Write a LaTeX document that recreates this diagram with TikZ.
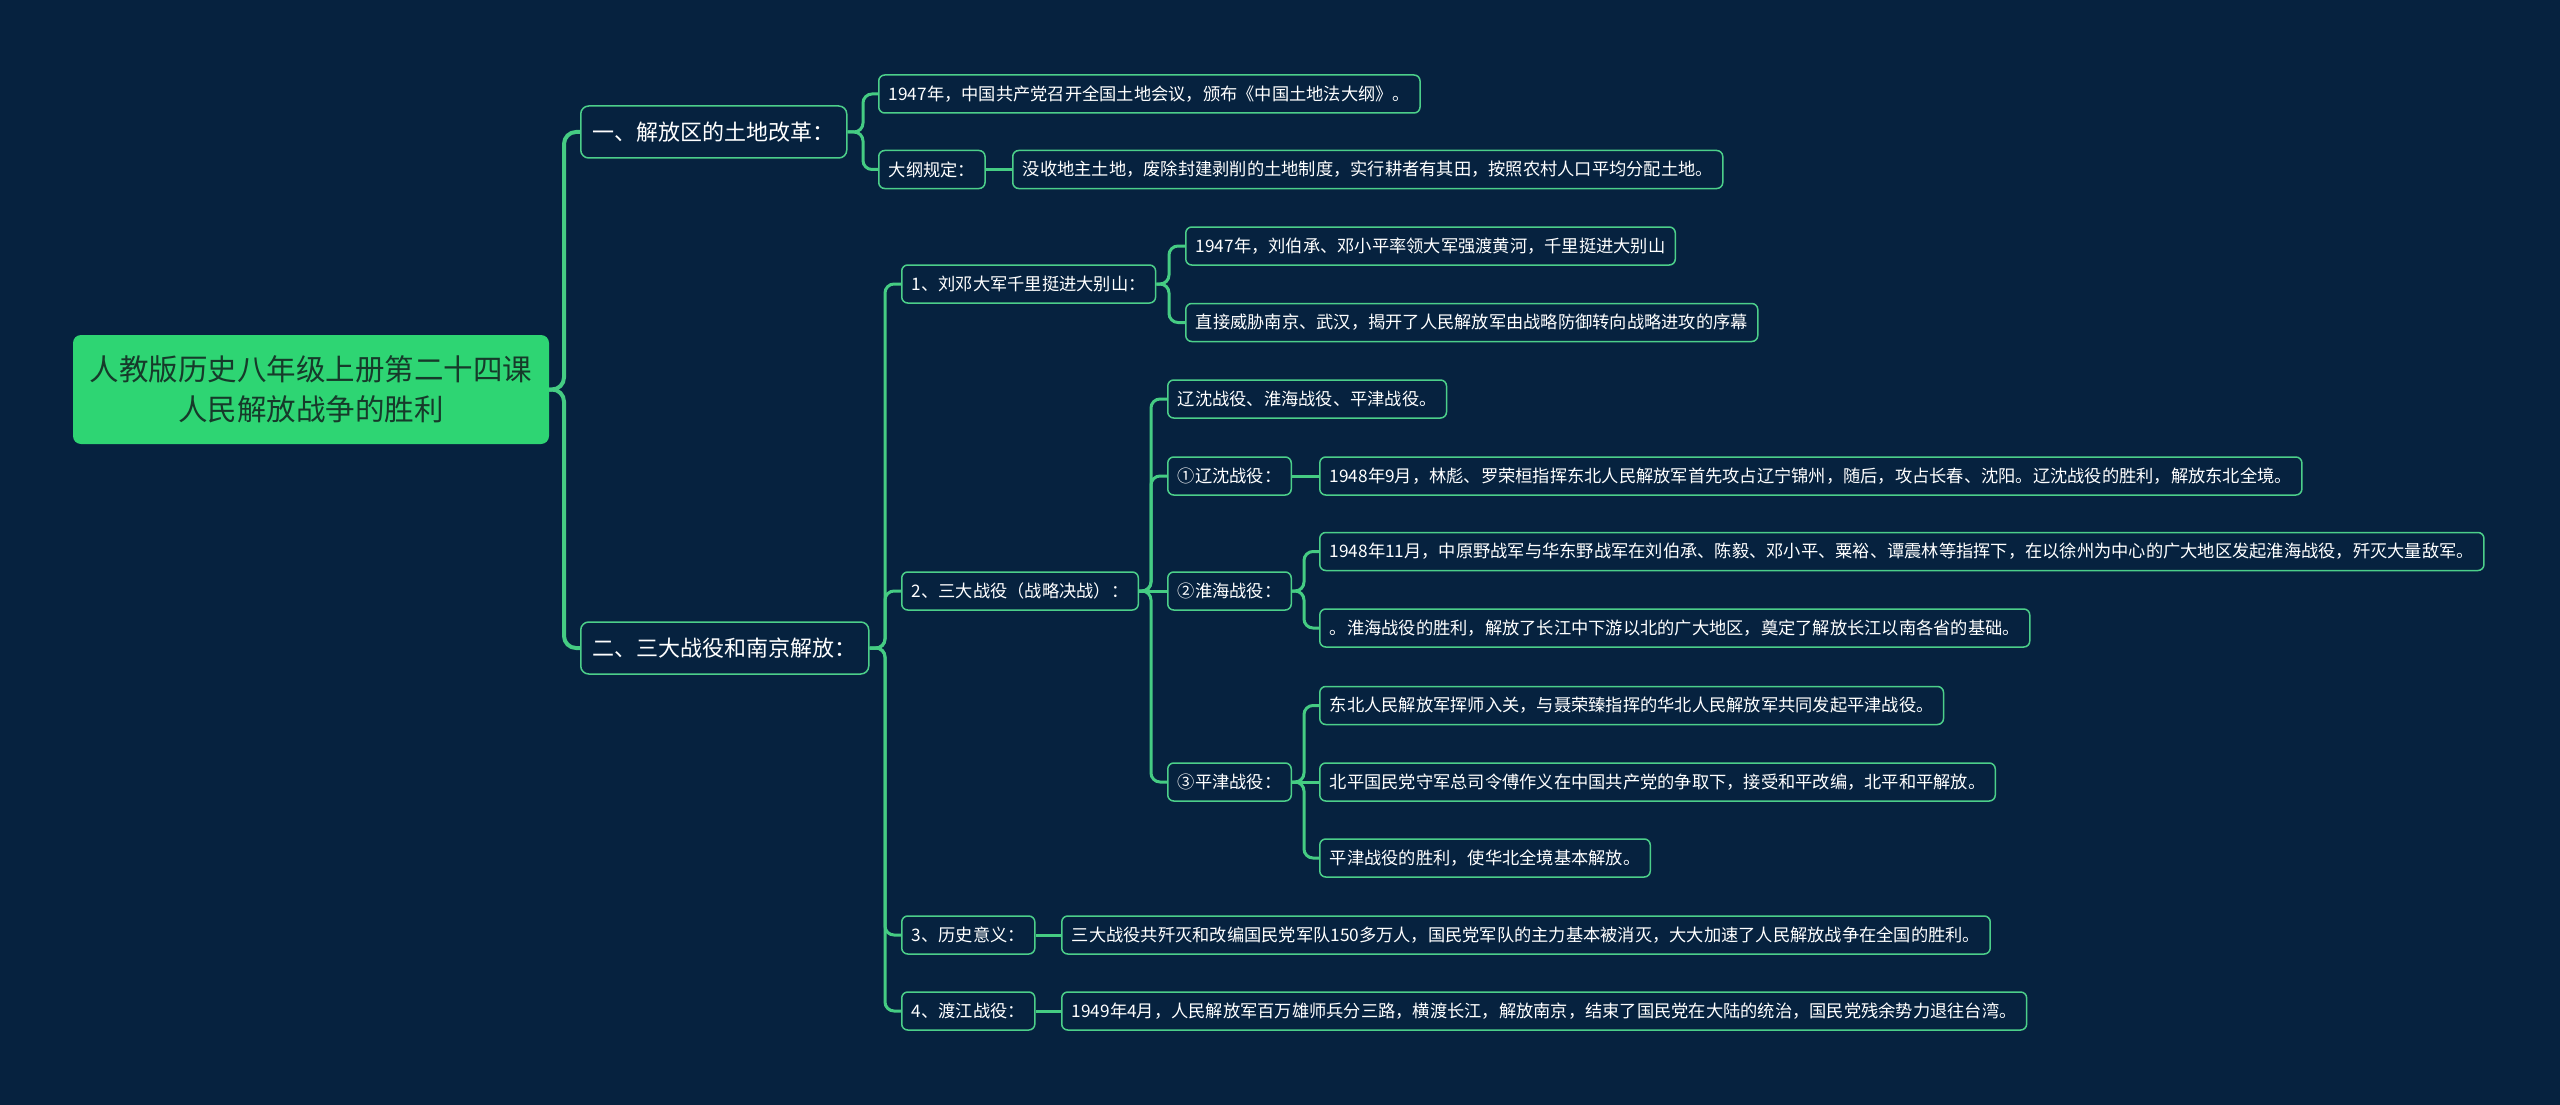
\documentclass[tikz,border=0pt]{standalone}
\usepackage{fontspec}
\setmainfont{Noto Sans CJK SC}
\definecolor{bgc}{HTML}{06223F}
\definecolor{edgec}{HTML}{4CCF8A}
\definecolor{linec}{HTML}{45CC83}
\definecolor{rootc}{HTML}{2ED573}
\definecolor{roottext}{HTML}{163A2A}
\begin{document}
\begin{tikzpicture}[x=1pt,y=-1pt,
 box/.style={draw=edgec, fill=bgc, text=white, rounded corners=6pt, line width=1.5pt,
   font=\fontsize{17.25}{20}\selectfont, minimum height=38pt, inner xsep=10pt, inner ysep=0pt, anchor=west},
 lone/.style={box, font=\fontsize{22}{26}\selectfont, minimum height=52pt, inner xsep=12pt, rounded corners=8pt},
 rootbox/.style={fill=rootc, text=roottext, rounded corners=8pt, font=\fontsize{29.5}{40}\selectfont,
   align=center, minimum width=476pt, minimum height=109pt},
 conn/.style={draw=linec, line width=3pt, rounded corners=9pt},
 connthick/.style={conn, line width=4pt, rounded corners=12pt}]
\fill[bgc] (0,0) rectangle (2560,1105);
\useasboundingbox (0,0) rectangle (2560,1105);

% nodes
\node[rootbox] (root) at (311,389.5) {人教版历史八年级上册第二十四课\\人民解放战争的胜利};
\node[lone] (la) at (580,132) {一、解放区的土地改革：};
\node[lone] (lb) at (580,648) {二、三大战役和南京解放：};

\node[box] (a1) at (878,94) {1947年，中国共产党召开全国土地会议，颁布《中国土地法大纲》。};
\node[box] (a2) at (878,169.5) {大纲规定：};
\node[box] (a2x) at (1012,169.5) {没收地主土地，废除封建剥削的土地制度，实行耕者有其田，按照农村人口平均分配土地。};

\node[box] (b1) at (901,284) {1、刘邓大军千里挺进大别山：};
\node[box] (b2) at (901,591) {2、三大战役（战略决战）：};
\node[box] (b3) at (901,935) {3、历史意义：};
\node[box] (b4) at (901,1011) {4、渡江战役：};

\node[box] (b1a) at (1185,246) {1947年，刘伯承、邓小平率领大军强渡黄河，千里挺进大别山};
\node[box] (b1b) at (1185,322.5) {直接威胁南京、武汉，揭开了人民解放军由战略防御转向战略进攻的序幕};

\node[box] (b2a) at (1167,399) {辽沈战役、淮海战役、平津战役。};
\node[box] (b2b) at (1167,476) {①辽沈战役：};
\node[box] (b2bx) at (1319,476) {1948年9月，林彪、罗荣桓指挥东北人民解放军首先攻占辽宁锦州，随后，攻占长春、沈阳。辽沈战役的胜利，解放东北全境。};
\node[box] (b2c) at (1167,591) {②淮海战役：};
\node[box] (b2c1) at (1319,551.5) {1948年11月，中原野战军与华东野战军在刘伯承、陈毅、邓小平、粟裕、谭震林等指挥下，在以徐州为中心的广大地区发起淮海战役，歼灭大量敌军。};
\node[box] (b2c2) at (1319,628) {。淮海战役的胜利，解放了长江中下游以北的广大地区，奠定了解放长江以南各省的基础。};
\node[box] (b2d) at (1167,782) {③平津战役：};
\node[box] (b2d1) at (1319,705.5) {东北人民解放军挥师入关，与聂荣臻指挥的华北人民解放军共同发起平津战役。};
\node[box] (b2d2) at (1319,782) {北平国民党守军总司令傅作义在中国共产党的争取下，接受和平改编，北平和平解放。};
\node[box] (b2d3) at (1319,858) {平津战役的胜利，使华北全境基本解放。};

\node[box] (b3x) at (1061,935) {三大战役共歼灭和改编国民党军队150多万人，国民党军队的主力基本被消灭，大大加速了人民解放战争在全国的胜利。};
\node[box] (b4x) at (1061,1011) {1949年4月，人民解放军百万雄师兵分三路，横渡长江，解放南京，结束了国民党在大陆的统治，国民党残余势力退往台湾。};

% spine coordinates
\coordinate (s0) at (564,0);
\coordinate (sa) at (863,0);
\coordinate (sb) at (885,0);
\coordinate (sb1) at (1169,0);
\coordinate (sb2) at (1151,0);
\coordinate (sbc) at (1304,0);
\coordinate (sbd) at (1304,0);

% connectors
\draw[connthick] (root.east) -- (root.east -| s0) |- (la.west);
\draw[connthick] (root.east) -- (root.east -| s0) |- (lb.west);

\draw[conn] (la.east) -- (la.east -| sa) |- (a1.west);
\draw[conn] (la.east) -- (la.east -| sa) |- (a2.west);
\draw[conn] (a2.east) -- (a2x.west);

\draw[conn] (lb.east) -- (lb.east -| sb) |- (b1.west);
\draw[conn] (lb.east) -- (lb.east -| sb) |- (b2.west);
\draw[conn] (lb.east) -- (lb.east -| sb) |- (b3.west);
\draw[conn] (lb.east) -- (lb.east -| sb) |- (b4.west);

\draw[conn] (b1.east) -- (b1.east -| sb1) |- (b1a.west);
\draw[conn] (b1.east) -- (b1.east -| sb1) |- (b1b.west);

\draw[conn] (b2.east) -- (b2.east -| sb2) |- (b2a.west);
\draw[conn] (b2.east) -- (b2.east -| sb2) |- (b2b.west);
\draw[conn] (b2.east) -- (b2c.west);
\draw[conn] (b2.east) -- (b2.east -| sb2) |- (b2d.west);

\draw[conn] (b2b.east) -- (b2bx.west);

\draw[conn] (b2c.east) -- (b2c.east -| sbc) |- (b2c1.west);
\draw[conn] (b2c.east) -- (b2c.east -| sbc) |- (b2c2.west);

\draw[conn] (b2d.east) -- (b2d.east -| sbd) |- (b2d1.west);
\draw[conn] (b2d.east) -- (b2d2.west);
\draw[conn] (b2d.east) -- (b2d.east -| sbd) |- (b2d3.west);

\draw[conn] (b3.east) -- (b3x.west);
\draw[conn] (b4.east) -- (b4x.west);
\end{tikzpicture}
\end{document}
